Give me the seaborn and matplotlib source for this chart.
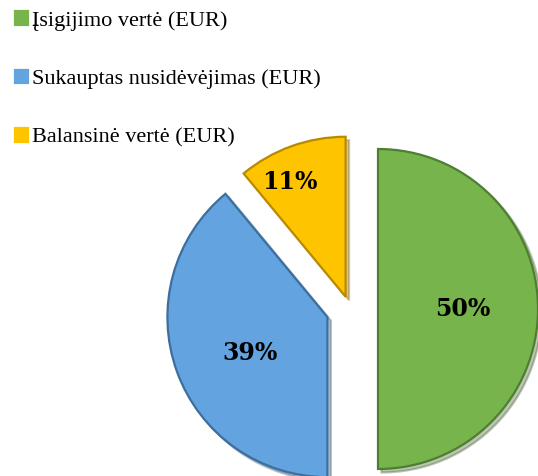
import numpy as np
import matplotlib
matplotlib.use("Agg")
import matplotlib.pyplot as plt
import seaborn as sns

# Data
labels = ["Įsigijimo vertė (EUR)", "Sukauptas nusidėvėjimas (EUR)", "Balansinė vertė (EUR)"]
shares = [50, 39, 11]
colors = ["#77B54C", "#62A3E0", "#FFC400"]
edges = ["#4E7F30", "#3C6F9E", "#B98A00"]
explode = [28, 24, 13]

sns.set_theme(style="white")
plt.rcParams["font.family"] = ["Liberation Serif", "DejaVu Serif"]
plt.rcParams["text.color"] = "black"

W, H = 538, 476
fig = plt.figure(figsize=(W / 100, H / 100), dpi=100)
ax = fig.add_axes([0, 0, 1, 1])

# pixel-like coordinate system (y up)
cx, cy, r = 350, H - 309, 160
wedges, texts, autotexts = ax.pie(
    shares,
    colors=colors,
    explode=explode,
    center=(cx, cy),
    radius=r,
    startangle=90,
    counterclock=False,
    autopct="%1.0f%%",
    pctdistance=0.53,
    frame=True,
    shadow={"ox": 2.5, "oy": -2.5, "shade": 0.5, "alpha": 0.35},
    wedgeprops=dict(linewidth=1.6),
    textprops=dict(fontsize=17, fontweight="bold", family="DejaVu Serif", color="black"),
)
for w, ec in zip(wedges, edges):
    w.set_edgecolor(ec)

# label placement per slice (distance as fraction of radius, angle shift in degrees)
label_pos = [(0.53, 0), (0.53, 5), (0.8, 6)]
for w, t, (d, shift) in zip(wedges, autotexts, label_pos):
    mid = np.deg2rad((w.theta1 + w.theta2) / 2 + shift)
    t.set_position((w.center[0] + d * r * np.cos(mid),
                    w.center[1] + d * r * np.sin(mid)))

ax.set_xlim(0, W)
ax.set_ylim(0, H)
ax.set_aspect("equal")
ax.axis("off")

leg = fig.legend(
    wedges, labels,
    loc="upper left",
    bbox_to_anchor=(0.008, 1.0),
    frameon=False,
    fontsize=16,
    handlelength=0.55,
    handleheight=0.55,
    handletextpad=0.2,
    labelspacing=1.75,
    borderaxespad=0.1,
)
for h, c in zip(leg.legend_handles, colors):
    h.set_edgecolor(c)

fig.savefig("out.png", dpi=100)
